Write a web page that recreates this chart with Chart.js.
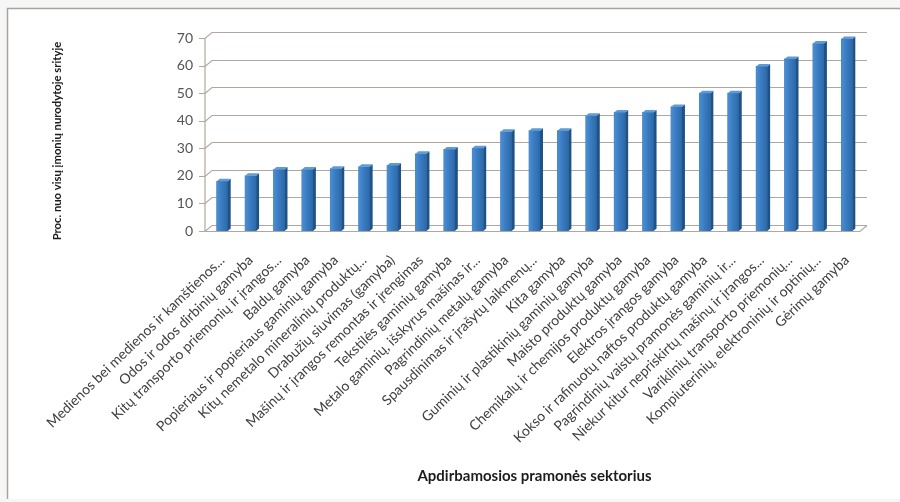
<!DOCTYPE html>
<html>
<head>
<meta charset="utf-8">
<script src="https://cdn.jsdelivr.net/npm/chart.js@4.4.1/dist/chart.umd.min.js"></script>
<style>
  html, body { margin: 0; padding: 0; background: #ffffff; }
  #wrap { width: 900px; height: 502px; position: relative; }
</style>
</head>
<body>
<div id="wrap"><canvas id="c" width="900" height="502"></canvas></div>
<script>
// Manufacturing sectors, sorted by share of enterprises
const categories = [
  'Medienos bei medienos ir kamštienos...',
  'Odos ir odos dirbinių gamyba',
  'Kitų transporto priemonių ir įrangos...',
  'Baldų gamyba',
  'Popieriaus ir popieriaus gaminių gamyba',
  'Kitų nemetalo mineralinių produktų...',
  'Drabužių siuvimas (gamyba)',
  'Mašinų ir įrangos remontas ir įrengimas',
  'Tekstilės gaminių gamyba',
  'Metalo gaminių, išskyrus mašinas ir...',
  'Pagrindinių metalų gamyba',
  'Spausdinimas ir įrašytų laikmenų...',
  'Kita gamyba',
  'Guminių ir plastikinių gaminių gamyba',
  'Maisto produktų gamyba',
  'Chemikalų ir chemijos produktų gamyba',
  'Elektros įrangos gamyba',
  'Kokso ir rafinuotų naftos produktų gamyba',
  'Pagrindinių vaistų pramonės gaminių ir...',
  'Niekur kitur nepriskirtų mašinų ir įrangos...',
  'Variklinių transporto priemonių...',
  'Kompiuterinių, elektroninių ir optinių...',
  'Gėrimų gamyba'
];

// Percentage of enterprises in each sector
const shares = [
  18, 20, 22.3, 22.3, 22.6, 23.3, 23.8, 28, 29.6, 30, 36, 36.4,
  36.4, 41.8, 43, 43, 45, 50, 50, 59.7, 62.4, 68, 69.6
];

const yTicks = [0, 10, 20, 30, 40, 50, 60, 70];
const yTitle = 'Proc. nuo visų įmonių nurodytoje srityje';
const xTitle = 'Apdirbamosios pramonės sektorius';

const FONT = 'Lato, "Open Sans", sans-serif';
const DX = 7, DY = 6;          // offset of the back wall
const BAR_DX = 3, BAR_DY = 2.5; // depth of each column

// Page frame: light margin with a thin border on the top and left
const framePlugin = {
  id: 'frame',
  beforeDraw(chart) {
    const ctx = chart.ctx;
    ctx.save();
    ctx.fillStyle = '#f6f6f6';
    ctx.fillRect(0, 0, chart.width, chart.height);
    ctx.fillStyle = '#ffffff';
    ctx.fillRect(8, 9, chart.width - 8, chart.height - 12);
    ctx.strokeStyle = '#aaa1a0';
    ctx.lineWidth = 1.5;
    ctx.beginPath();
    ctx.moveTo(7.5, chart.height - 3);
    ctx.lineTo(7.5, 8.5);
    ctx.lineTo(chart.width, 8.5);
    ctx.stroke();
    ctx.restore();
  }
};

// Back wall gridlines, floor and the front value axis
const wallPlugin = {
  id: 'wall',
  beforeDatasetsDraw(chart) {
    const ctx = chart.ctx;
    const ys = chart.scales.y;
    const area = chart.chartArea;
    const axisX = area.left - 3;
    const wallL = axisX + DX;
    const wallR = area.right + 6;
    ctx.save();
    ctx.strokeStyle = '#b2a7a0';
    ctx.lineWidth = 1.2;
    yTicks.forEach(v => {
      const y = Math.round(ys.getPixelForValue(v)) + 0.5;
      ctx.beginPath();
      ctx.moveTo(axisX - 6, y);
      ctx.lineTo(axisX, y);
      ctx.lineTo(wallL, y - DY);
      ctx.lineTo(wallR, y - DY);
      ctx.stroke();
    });
    const y0 = Math.round(ys.getPixelForValue(0)) + 0.5;
    const yTop = Math.round(ys.getPixelForValue(yTicks[yTicks.length - 1])) + 0.5;
    ctx.beginPath();
    ctx.moveTo(axisX, yTop);
    ctx.lineTo(axisX, y0);
    ctx.lineTo(wallR - DX, y0);
    ctx.lineTo(wallR, y0 - DY);
    ctx.stroke();
    ctx.restore();
  }
};

// Side and top faces give the columns their depth
const depthPlugin = {
  id: 'depth',
  afterDatasetsDraw(chart) {
    const ctx = chart.ctx;
    const meta = chart.getDatasetMeta(0);
    ctx.save();
    meta.data.forEach(bar => {
      const { x, y, base, width } = bar.getProps(['x', 'y', 'base', 'width'], true);
      const l = x - width / 2, r = x + width / 2;
      // front shading
      const g = ctx.createLinearGradient(l, 0, r, 0);
      g.addColorStop(0, '#4b8fd3');
      g.addColorStop(0.45, '#3a7cc1');
      g.addColorStop(1, '#2d69a9');
      ctx.fillStyle = g;
      ctx.fillRect(l, y, width, base - y);
      // side
      ctx.fillStyle = '#1f5287';
      ctx.beginPath();
      ctx.moveTo(r, y);
      ctx.lineTo(r + BAR_DX, y - BAR_DY);
      ctx.lineTo(r + BAR_DX, base - BAR_DY);
      ctx.lineTo(r, base);
      ctx.closePath();
      ctx.fill();
      // top
      ctx.fillStyle = '#5f9bd6';
      ctx.beginPath();
      ctx.moveTo(l, y);
      ctx.lineTo(l + BAR_DX, y - BAR_DY);
      ctx.lineTo(r + BAR_DX, y - BAR_DY);
      ctx.lineTo(r, y);
      ctx.closePath();
      ctx.fill();
    });
    ctx.restore();
  }
};

// Vertical axis title
const yTitlePlugin = {
  id: 'yTitle',
  afterDraw(chart) {
    const ctx = chart.ctx;
    ctx.save();
    ctx.translate(57, 141);
    ctx.rotate(-Math.PI / 2);
    ctx.font = 'bold 11.25px ' + FONT;
    ctx.fillStyle = '#1c1c1c';
    ctx.textAlign = 'center';
    ctx.textBaseline = 'middle';
    ctx.fillText(yTitle, 0, 0);
    ctx.restore();
  }
};

new Chart(document.getElementById('c'), {
  type: 'bar',
  data: {
    labels: categories,
    datasets: [{
      data: shares,
      backgroundColor: '#3a7cc1',
      borderWidth: 0,
      barThickness: 11
    }]
  },
  options: {
    responsive: false,
    devicePixelRatio: 1,
    animation: false,
    events: [],
    layout: { padding: { top: 38, right: 39, left: 0, bottom: 0 } },
    plugins: {
      legend: { display: false },
      tooltip: { enabled: false },
      title: { display: false }
    },
    scales: {
      y: {
        min: 0,
        max: 70,
        afterFit(s) { s.width = 208; },
        afterBuildTicks(s) { s.ticks = yTicks.map(v => ({ value: v })); },
        grid: { display: false, drawTicks: false },
        border: { display: false },
        ticks: {
          padding: 15,
          color: '#555555',
          font: { family: FONT, size: 14 }
        }
      },
      x: {
        afterFit(s) { s.height = 271; },
        grid: { display: false },
        border: { display: false },
        ticks: {
          autoSkip: false,
          maxRotation: 44,
          minRotation: 44,
          padding: 13,
          color: '#404040',
          font: { family: FONT, size: 14 }
        },
        title: {
          display: true,
          text: xTitle,
          color: '#1c1c1c',
          font: { family: FONT, size: 15, weight: 'bold' },
          padding: { top: 0, bottom: 17 }
        }
      }
    }
  },
  plugins: [framePlugin, wallPlugin, depthPlugin, yTitlePlugin]
});
</script>
</body>
</html>
